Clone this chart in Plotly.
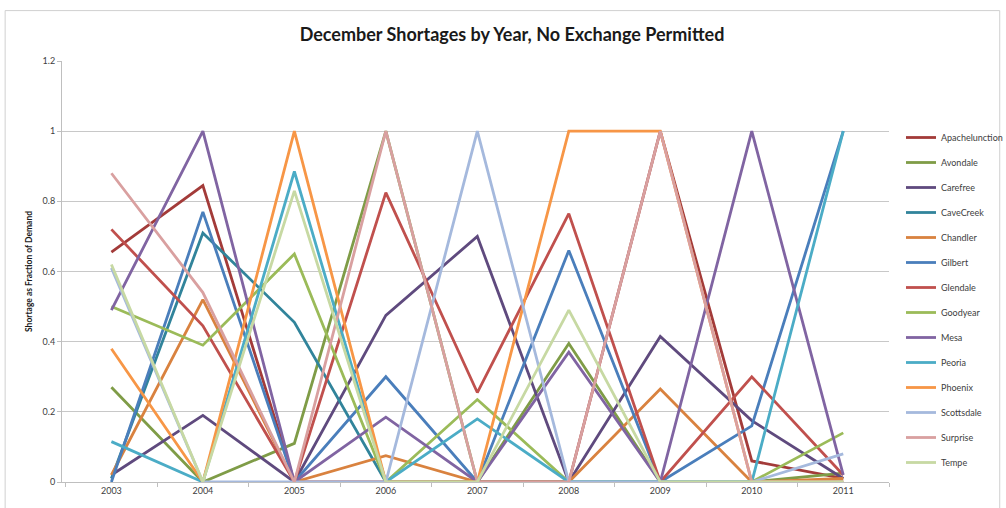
import plotly.graph_objects as go

years = ["2003", "2004", "2005", "2006", "2007", "2008", "2009", "2010", "2011"]

series_names = ["Apachelunction", "Avondale", "Carefree", "CaveCreek", "Chandler", "Gilbert",
                "Glendale", "Goodyear", "Mesa", "Peoria", "Phoenix", "Scottsdale", "Surprise", "Tempe"]

apachelunction = [0.655, 0.845, 0.0, 0.0, 0.0, 0.0, 1.0, 0.06, 0.01]
avondale = [0.27, 0.0, 0.11, 1.0, 0.0, 0.395, 0.0, 0.0, 0.025]
carefree = [0.02, 0.19, 0.0, 0.475, 0.70, 0.0, 0.415, 0.175, 0.01]
cavecreek = [0.01, 0.71, 0.455, 0.0, 0.0, 0.0, 0.0, 0.0, 0.0]
chandler = [0.02, 0.52, 0.0, 0.075, 0.0, 0.0, 0.265, 0.0, 0.01]
gilbert = [0.0, 0.77, 0.0, 0.30, 0.0, 0.66, 0.0, 0.16, 1.0]
glendale = [0.72, 0.445, 0.0, 0.825, 0.255, 0.765, 0.0, 0.30, 0.02]
goodyear = [0.50, 0.39, 0.65, 0.0, 0.235, 0.0, 0.0, 0.0, 0.14]
mesa = [0.49, 1.0, 0.0, 0.185, 0.0, 0.37, 0.0, 1.0, 0.02]
peoria = [0.115, 0.0, 0.885, 0.0, 0.18, 0.0, 0.0, 0.0, 1.0]
phoenix = [0.38, 0.0, 1.0, 0.0, 0.0, 1.0, 1.0, 0.0, 0.0]
scottsdale = [0.61, 0.0, 0.0, 0.0, 1.0, 0.0, 0.0, 0.0, 0.08]
surprise = [0.88, 0.54, 0.0, 1.0, 0.0, 0.0, 1.0, 0.0, 0.0]
tempe = [0.62, 0.0, 0.83, 0.0, 0.0, 0.49, 0.0, 0.0, 0.0]

series_values = [apachelunction, avondale, carefree, cavecreek, chandler, gilbert, glendale,
                 goodyear, mesa, peoria, phoenix, scottsdale, surprise, tempe]

colors = ["#A33B39", "#7F9C47", "#5F4A7E", "#31849B", "#D9823F", "#4A7EBB", "#C0504D",
          "#9BBB59", "#8064A2", "#4BACC6", "#F79646", "#A5B9DD", "#D9A0A0", "#C7D9A3"]

font_family = "Lato, 'Open Sans', sans-serif"

fig = go.Figure()
for name, vals, col in zip(series_names, series_values, colors):
    fig.add_trace(go.Scatter(
        x=years, y=vals, mode="lines", name=name, legendgroup=name,
        line=dict(color=col, width=2.8),
    ))

fig.update_layout(
    width=1006, height=508,
    margin=dict(l=62, r=115, t=61, b=21),
    paper_bgcolor="white", plot_bgcolor="white",
    font=dict(family=font_family, size=9, color="#404040"),
    title=dict(text="<b>December Shortages by Year, No Exchange Permitted</b>",
               x=512 / 1006, xref="container", xanchor="center",
               y=1 - 35 / 508, yref="container", yanchor="middle",
               font=dict(family=font_family, size=18, color="#1a1a1a")),
    showlegend=True,
    legend=dict(xref="container", yref="container", x=901 / 1006, y=1 - 123 / 508,
                xanchor="left", yanchor="top", tracegroupgap=6, maxheight=420,
                font=dict(family=font_family, size=9, color="#404040"),
                bgcolor="rgba(0,0,0,0)", itemwidth=30),
    xaxis=dict(type="category", range=[-0.54, 8.5], showgrid=False,
               showline=True, linecolor="#BFBFBF", linewidth=1,
               ticks="outside", ticklen=4, tickcolor="#BFBFBF", tickson="boundaries",
               tickfont=dict(size=9, color="#404040"), zeroline=False, fixedrange=True),
    yaxis=dict(range=[0, 1.2], dtick=0.2, tick0=0, showgrid=True, gridcolor="#C8C8C8", gridwidth=1,
               showline=True, linecolor="#BFBFBF", linewidth=1,
               ticks="outside", ticklen=4, tickcolor="#BFBFBF",
               zeroline=False, tickfont=dict(size=9, color="#404040"),
               title=dict(text="<b>Shortage as Fraction of Demand</b>", standoff=8,
                          font=dict(size=8.5, color="#1a1a1a"))),
    shapes=[dict(type="rect", xref="paper", yref="paper",
                 x0=(5 - 62) / 829, x1=(1002 - 62) / 829,
                 y0=(487 - 540) / 426, y1=(487 - 10) / 426,
                 line=dict(color="#D0D0D0", width=1), fillcolor="rgba(0,0,0,0)", layer="below")],
)

fig.write_html("out.html")
